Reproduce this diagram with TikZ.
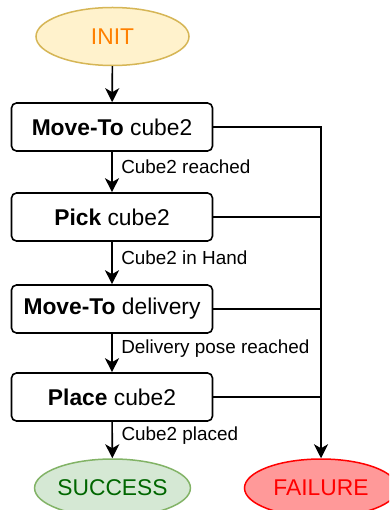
\documentclass[tikz,border=0pt]{standalone}
\usepackage{fontspec}
\setmainfont{Liberation Sans}
\usetikzlibrary{shapes.geometric,arrows.meta}
\definecolor{initfill}{HTML}{FFF2CC}
\definecolor{initdraw}{HTML}{D6B656}
\definecolor{inittext}{HTML}{FF8000}
\definecolor{succfill}{HTML}{D5E8D4}
\definecolor{succdraw}{HTML}{82B366}
\definecolor{succtext}{HTML}{006600}
\definecolor{failfill}{HTML}{FF9999}
\definecolor{faildraw}{HTML}{FF0000}
\definecolor{failtext}{HTML}{FF0000}
\tikzset{
  statebox/.style={draw=black, line width=1.6pt, rounded corners=5pt, fill=white,
    minimum width=201pt, minimum height=48pt, inner sep=0pt,
    font=\fontsize{22.8}{27}\selectfont},
  terminal/.style={ellipse, line width=1.5pt, minimum width=153pt, minimum height=58pt,
    inner sep=0pt, font=\fontsize{22.8}{27}\selectfont},
  arr/.style={line width=1.6pt, -{Stealth[length=14pt,width=14pt,inset=4pt]}},
  conn/.style={line width=1.6pt},
  edgelabel/.style={anchor=west, inner sep=0pt, xshift=8.5pt, pos=0.38,
    font=\fontsize{18.9}{22}\selectfont}
}
\begin{document}
\begin{tikzpicture}[x=1pt, y=-1pt]
\clip (0,0) rectangle (389,510);
\fill[white] (0,0) rectangle (389,510);
\node[terminal, fill=initfill, draw=initdraw, text=inittext] (init) at (112.5,36.5) {INIT};
\node[statebox] (b1) at (112,127) {\textbf{Move-To} cube2};
\node[statebox] (b2) at (112,217) {\textbf{Pick} cube2};
\node[statebox] (b3) at (112,309) {\textbf{Move-To} delivery};
\node[statebox] (b4) at (112,397) {\textbf{Place} cube2};
\node[terminal, fill=succfill, draw=succdraw, text=succtext] (succ) at (112.5,488) {SUCCESS};
\node[terminal, fill=failfill, draw=faildraw, text=failtext] (fail) at (321,488) {FAILURE};
\draw[arr] (init) -- (b1);
\draw[arr] (b1) -- node[edgelabel] {Cube2 reached} (b2);
\draw[arr] (b2) -- node[edgelabel] {Cube2 in Hand} (b3);
\draw[arr] (b3) -- node[edgelabel] {Delivery pose reached} (b4);
\draw[arr] (b4) -- node[edgelabel] {Cube2 placed} (succ);
\draw[arr] (b1.east) -| (fail.north);
\draw[conn] (b2.east) -- (b2.east -| fail.north);
\draw[conn] (b3.east) -- (b3.east -| fail.north);
\draw[conn] (b4.east) -- (b4.east -| fail.north);
\end{tikzpicture}
\end{document}
